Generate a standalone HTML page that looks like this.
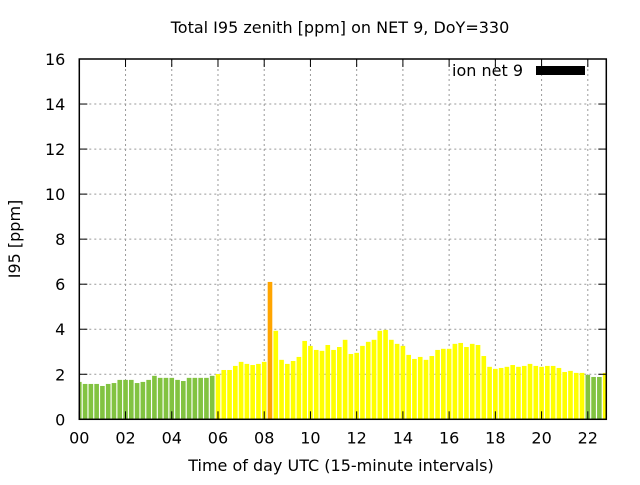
<!DOCTYPE html>
<html><head><meta charset="utf-8"><style>
body{margin:0;background:#fff}
svg text{font-family:"DejaVu Sans","Liberation Sans",sans-serif;fill:#000}
</style></head><body>
<svg id="c" width="640" height="480" xmlns="http://www.w3.org/2000/svg">
<text x="340" y="33" text-anchor="middle" style="font-size:16px">Total I95 zenith [ppm] on NET 9, DoY=330</text>
<text transform="translate(20,239) rotate(-90)" text-anchor="middle" style="font-size:16px">I95 [ppm]</text>
<text x="341" y="471" text-anchor="middle" style="font-size:16px">Time of day UTC (15-minute intervals)</text>
<g id="grid"></g><g id="bars"></g><g id="axes"></g>
<text x="523" y="76" text-anchor="end" style="font-size:16px">ion net 9</text>
<rect x="536" y="66" width="49" height="9" fill="#000"/>
</svg>
<script>
const values=[1.66,1.57,1.57,1.57,1.48,1.57,1.61,1.75,1.75,1.75,1.61,1.66,1.75,1.93,1.84,1.84,1.84,1.75,1.70,1.84,1.84,1.84,1.84,1.93,
2.01,2.19,2.19,2.37,2.55,2.46,2.41,2.46,2.55,6.1,3.93,2.64,2.46,2.59,2.77,3.48,3.26,3.08,3.04,3.30,3.08,3.21,3.53,
2.90,2.95,3.26,3.44,3.53,3.93,3.97,3.53,3.35,3.26,2.86,2.68,2.77,2.64,2.81,3.08,3.13,3.13,3.35,3.39,3.21,3.35,3.30,2.81,
2.33,2.24,2.28,2.33,2.41,2.33,2.37,2.46,2.37,2.33,2.37,2.37,2.28,2.10,2.15,2.06,2.06,1.97,1.88,1.88,2.06];
const yTicks=[0,2,4,6,8,10,12,14,16];
const xTicks=[0,2,4,6,8,10,12,14,16,18,20,22];
const xLabels=["00","02","04","06","08","10","12","14","16","18","20","22"];
const L=79.3,R=606.3,T=59,B=419.3,XMAX=22.8,YMAX=16;
const X=h=>L+h/XMAX*(R-L), Y=v=>B-v/YMAX*(B-T);
const NS="http://www.w3.org/2000/svg";
function mk(t,a,p){const e=document.createElementNS(NS,t);for(const k in a)e.setAttribute(k,a[k]);p.appendChild(e);return e;}
const grid=document.getElementById('grid'),bars=document.getElementById('bars'),axes=document.getElementById('axes');
yTicks.forEach(v=>{
 if(v>0&&v<YMAX){const g=mk('line',{x1:L,x2:R,y1:Y(v),y2:Y(v),stroke:'#999','stroke-dasharray':'2,3'},grid);
 
 }
 const t=mk('text',{x:L-14,y:Y(v)+6,'text-anchor':'end',style:'font-size:16px'},axes);t.textContent=v;
 
 
 mk('line',{x1:L,x2:L+8,y1:Y(v),y2:Y(v),stroke:'#000'},axes);
 mk('line',{x1:R,x2:R-8,y1:Y(v),y2:Y(v),stroke:'#000'},axes);
});
xTicks.forEach((h,i)=>{
 if(h>0){const g=mk('line',{x1:X(h),x2:X(h),y1:T,y2:B,stroke:'#999','stroke-dasharray':'2,3'},grid);
 
 }
 const t=mk('text',{x:X(h),y:B+24,'text-anchor':'middle',style:'font-size:16px'},axes);t.textContent=xLabels[i];
 
 
 mk('line',{x1:X(h),x2:X(h),y1:B,y2:B-8,stroke:'#000'},axes);
 mk('line',{x1:X(h),x2:X(h),y1:T,y2:T+8,stroke:'#000'},axes);
});
const bw=(X(0.25)-X(0))*0.8;
values.forEach((v,i)=>{
 const cx=X(i*0.25);let x0=Math.max(L,cx-bw/2),x1=Math.min(R,cx+bw/2);
 if(x1<=x0)return;
 const col=v>5?'#ffa500':(v>=2?'#ffff00':'#82c341');
 const r=mk('rect',{x:x0,y:Y(v),width:x1-x0,height:B-Y(v),fill:col},bars);
 
 
});
const f=mk('rect',{x:L,y:T,width:R-L,height:B-T,fill:'none',stroke:'#000','stroke-width':1.5},axes);


</script>
</body></html>
